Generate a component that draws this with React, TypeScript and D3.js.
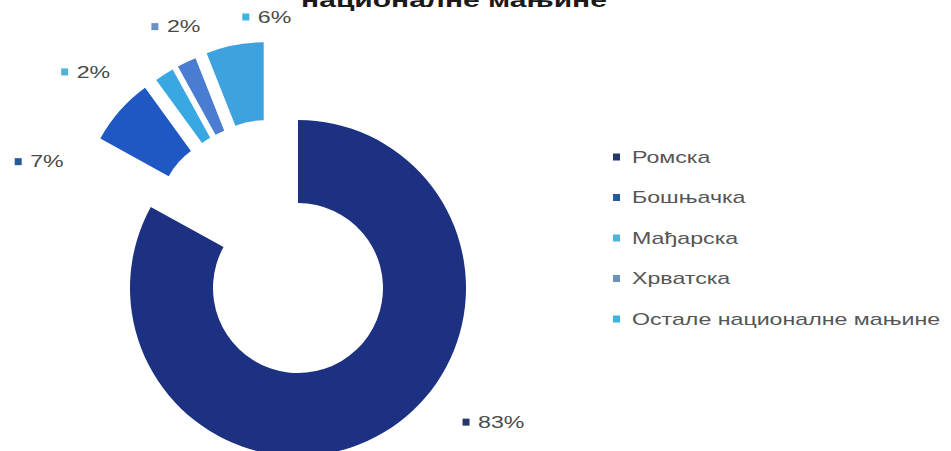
import React from "react";
import * as d3 from "d3";

// ---- data ----
const categories = ["Ромска", "Бошњачка", "Мађарска", "Хрватска", "Остале националне мањине"];
const values = [83, 7, 2, 2, 6];
const exploded = [false, true, true, true, true];
const percentLabels = ["83%", "7%", "2%", "2%", "6%"];
const titleText = "националне мањине";

// ---- styles / layout ----
const sliceColors = ["#1d3182", "#1f57c3", "#38a7e2", "#4a7dd2", "#3ea2df"];
const markerColors = ["#24386e", "#245a9c", "#4fb2da", "#6c90c2", "#3db3e2"];
const W = 951;
const H = 451;
const CX = 298;
const CY = 288;
const R_OUT = 168;
const R_IN = 85;
const R_OUT_EX = 155;
const R_IN_EX = 77;
const EXPLODE = 97;
const SX = 1.45; // horizontal text stretch
const FONT = "'Liberation Sans', Arial, sans-serif";
// label placement (polar, relative to slice bisector)
const labelShiftDeg = [-20.8, -17.1, -14.8, -3.5, -0.1];
const labelRadius = [215, 307, 318, 298, 276];

const deg = Math.PI / 180;

export default function App() {
  const pie = d3
    .pie<number>()
    .sort(null)
    .value((d) => d)
    .startAngle(0)
    .endAngle(2 * Math.PI);
  const arcs = pie(values);

  const arcMain = d3.arc<d3.PieArcDatum<number>>().innerRadius(R_IN).outerRadius(R_OUT);
  const arcEx = d3.arc<d3.PieArcDatum<number>>().innerRadius(R_IN_EX).outerRadius(R_OUT_EX);

  const exArcs = arcs.filter((_, i) => exploded[i]);
  const gStart = d3.min(exArcs, (a) => a.startAngle) ?? 0;
  const gEnd = d3.max(exArcs, (a) => a.endAngle) ?? 0;
  const gMid = (gStart + gEnd) / 2;

  const legendX = 613;
  const legendY0 = 157;
  const legendStep = 40.5;

  return (
    <svg
      width={W}
      height={H}
      style={{ position: "absolute", left: 0, top: 0, background: "#fff" }}
      fontFamily={FONT}
    >
      <rect width={W} height={H} fill="#fff" />
      {/* title (cut off at the top) */}
      <text
        transform={`translate(454,7) scale(1.5,1)`}
        textAnchor="middle"
        fontSize={20}
        fontWeight="bold"
        fill="#1a1a1a"
      >
        {titleText}
      </text>

      {/* slices */}
      {arcs.map((a, i) => {
        const bis = (a.startAngle + a.endAngle) / 2;
        let tx = CX;
        let ty = CY;
        if (exploded[i]) {
          const dir = gMid + 0.5 * (bis - gMid);
          tx += EXPLODE * Math.sin(dir);
          ty -= EXPLODE * Math.cos(dir);
        }
        const path = exploded[i] ? arcEx(a) : arcMain(a);
        return (
          <path
            key={categories[i]}
            d={path || ""}
            transform={`translate(${tx},${ty})`}
            fill={sliceColors[i]}
          />
        );
      })}

      {/* data labels */}
      {arcs.map((a, i) => {
        const bis = (a.startAngle + a.endAngle) / 2 + labelShiftDeg[i] * deg;
        const x = CX + labelRadius[i] * Math.sin(bis);
        const y = CY - labelRadius[i] * Math.cos(bis);
        return (
          <g key={"lbl" + i}>
            <rect x={x - 3.5} y={y - 3.5} width={7} height={7} fill={markerColors[i]} />
            <text
              transform={`translate(${x + 12},${y}) scale(${SX},1)`}
              dy="0.36em"
              fontSize={16}
              fill="#4a4a4a"
            >
              {percentLabels[i]}
            </text>
          </g>
        );
      })}

      {/* legend */}
      {categories.map((c, i) => {
        const y = legendY0 + i * legendStep;
        return (
          <g key={"leg" + i}>
            <rect x={legendX} y={y - 3.5} width={7} height={7} fill={markerColors[i]} />
            <text
              transform={`translate(${legendX + 19},${y}) scale(${SX},1)`}
              dy="0.36em"
              fontSize={16}
              fill="#555"
            >
              {c}
            </text>
          </g>
        );
      })}
    </svg>
  );
}
